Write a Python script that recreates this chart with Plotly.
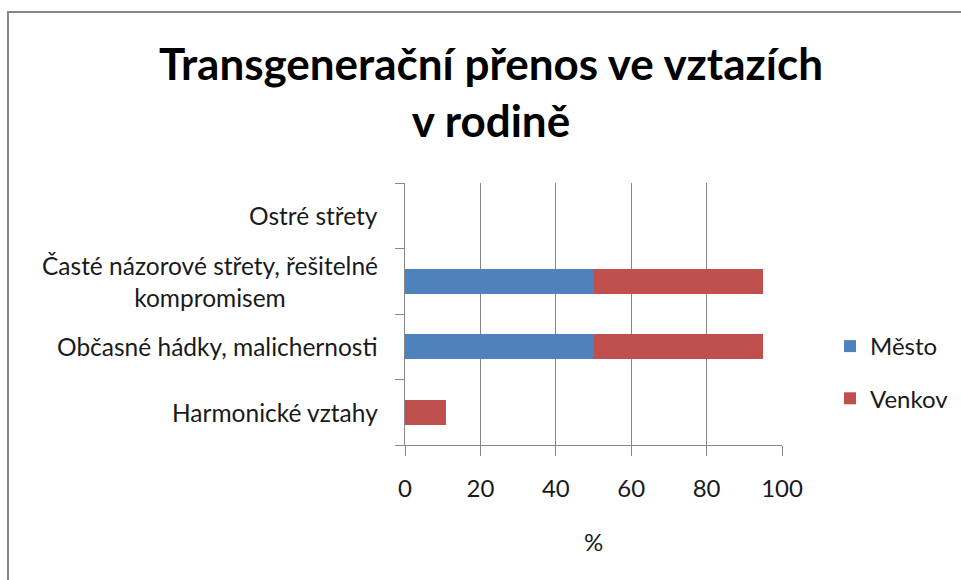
import plotly.graph_objects as go

categories = ["Harmonické vztahy", "Občasné hádky, malichernosti",
              "Časté názorové střety, řešitelné<br>kompromisem", "Ostré střety"]
mesto = [0, 50, 50, 0]
venkov = [11, 45, 45, 0]
series_names = ["Město", "Venkov"]
x_ticks = [0, 20, 40, 60, 80, 100]
title_text = "Transgenerační přenos ve vztazích<br>v rodině"
x_title = "%"

FONT = "Lato"
TXT = "#1a1a1a"
W, H = 961, 580
L, R, T, B = 405, 961 - 782, 183, 580 - 445

fig = go.Figure()
fig.add_trace(go.Bar(y=categories, x=mesto, orientation="h", name=series_names[0],
                     marker=dict(color="#4F81BD", line=dict(width=0)),
                     legendgroup="a"))
fig.add_trace(go.Bar(y=categories, x=venkov, orientation="h", name=series_names[1],
                     marker=dict(color="#C0504D", line=dict(width=0)),
                     legendgroup="b"))

for c in categories:
    fig.add_annotation(x=0, xref="paper", y=c, yref="y", text=c, showarrow=False,
                       xanchor="right", align="center", xshift=-25,
                       font=dict(family=FONT, size=24.5, color=TXT))

pw = W - L - R
ph = H - T - B
fig.add_shape(type="rect", xref="paper", yref="paper",
              x0=(8 - L) / pw, x1=(980 - L) / pw,
              y0=(H - B - 600) / ph, y1=(H - B - 12) / ph,
              line=dict(color="#878787", width=2), fillcolor="rgba(0,0,0,0)", layer="below")

fig.update_layout(
    width=W, height=H,
    margin=dict(l=L, r=R, t=T, b=B, pad=0, autoexpand=False),
    barmode="stack", bargap=0.62,
    plot_bgcolor="white", paper_bgcolor="white",
    font=dict(family=FONT, size=23, color=TXT),
    title=dict(text=title_text, x=491 / W, xanchor="center", xref="container",
               y=1 - 80 / H, yanchor="top", yref="container",
               font=dict(family=FONT, size=44, color="#000000", weight="bold")),
    xaxis=dict(range=[0, 100], tickvals=x_ticks, ticktext=[str(v) for v in x_ticks],
               showgrid=True, gridcolor="#878787", gridwidth=1,
               showline=True, linecolor="#878787", linewidth=1,
               ticks="outside", ticklen=10, tickcolor="#878787",
               ticklabelstandoff=12, zeroline=False,
               tickfont=dict(family=FONT, size=24, color=TXT),
               title=dict(text=x_title, standoff=33,
                          font=dict(family=FONT, size=24, color=TXT))),
    yaxis=dict(type="category", categoryorder="array", categoryarray=categories,
               showticklabels=False, showgrid=False,
               showline=True, linecolor="#878787", linewidth=1,
               ticks="outside", ticklen=9, tickcolor="#878787", tickson="boundaries"),
    legend=dict(x=(830 - L) / pw, xanchor="left", y=(H - B - 324) / ph, yanchor="top",
                traceorder="grouped", tracegroupgap=18,
                font=dict(family=FONT, size=24, color=TXT),
                bgcolor="rgba(0,0,0,0)", itemwidth=30),
    showlegend=True,
)

fig.write_html("out.html", config={"displayModeBar": False},
               post_script="document.body.style.margin='0';")
